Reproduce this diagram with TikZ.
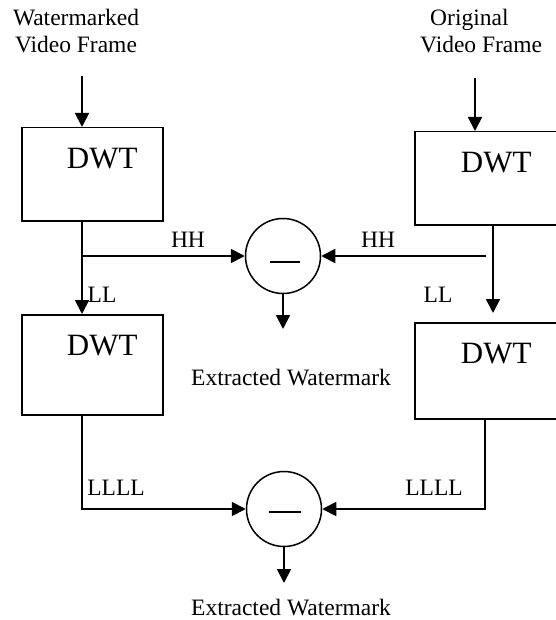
\documentclass[tikz,border=0pt]{standalone}
\usepackage{fontspec}
\setmainfont{Liberation Serif}
\usetikzlibrary{arrows.meta}

\begin{document}
\begin{tikzpicture}[x=1pt,y=-1pt,>={Triangle[length=14pt,width=14pt]},
    dwtbox/.style={draw, line width=1.5pt, inner sep=0pt, minimum width=141pt, text height=41pt, text depth=#1, font=\fontsize{31}{31}\selectfont},
    subtr/.style={draw, circle, line width=1.5pt, minimum size=75pt, inner sep=0pt},
    lbl/.style={font=\fontsize{23.5}{27}\selectfont, inner sep=0pt},
    flow/.style={line width=1.8pt,->}]
    \useasboundingbox (0,0) rectangle (555,620);
    \node[lbl, align=center, anchor=base] (wm) at (76,53) {Watermarked\\Video Frame}; % input 1
    \node[lbl, align=left, anchor=base west] (orig) at (420,53) {\hspace*{10pt}Original\\Video Frame}; % input 2
    \node[dwtbox=52pt, anchor=north west] (b1) at (21,127) {\hspace*{20pt}DWT}; % first level, watermarked
    \node[dwtbox=59pt, anchor=north west] (b2) at (21,314) {\hspace*{20pt}DWT}; % second level, watermarked
    \node[dwtbox=52pt, anchor=north west, minimum width=143pt] (b3) at (414,131) {\hspace*{20pt}DWT}; % first level, original
    \node[dwtbox=55pt, anchor=north west, minimum width=143pt] (b4) at (414,322) {\hspace*{20pt}DWT}; % second level, original
    \node[subtr] (c1) at (283,256) {}; % HH difference
    \node[subtr] (c2) at (284,509) {}; % LLLL difference
    \draw[line width=1.5pt] ([xshift=-13pt,yshift=-6pt]c1.center) -- ++(30,0); % minus
    \draw[line width=1.5pt] ([xshift=-15pt,yshift=-3pt]c2.center) -- ++(32,0); % minus
    \coordinate (wmin) at (82,76);
    \coordinate (origin) at (475,78);
    \coordinate (llr) at (493,313);
    \coordinate (split1) at (82,256);
    \coordinate (split2) at (486,256);
    \coordinate (xr) at (485,0);
    \coordinate (out1) at (283,329);
    \coordinate (out2) at (284,583);
    \draw[flow] (wmin) -- (wmin |- b1.north);
    \draw[flow] (origin) -- (origin |- b3.north);
    \draw[flow] (b1.south -| wmin) -- (b2.north -| wmin);
    \draw[flow] (b3.south -| llr) -- (llr);
    \draw[flow] (split1) -- (c1.west);
    \draw[flow] (split2) -- (c1.east);
    \draw[flow] (c1.south) -- (out1);
    \draw[flow] (b2.south -| wmin) |- (c2.west);
    \draw[flow] (b4.south -| xr) |- (c2.east);
    \draw[flow] (c2.south) -- (out2);
    \node[lbl, anchor=base] (hh1) at (188,247) {HH};
    \node[lbl, anchor=base] (hh2) at (378,247) {HH};
    \node[lbl, anchor=base] (ll1) at (102,302) {LL};
    \node[lbl, anchor=base] (ll2) at (438,302) {LL};
    \node[lbl, anchor=base] (llll1) at (116,495) {LLLL};
    \node[lbl, anchor=base] (llll2) at (434,495) {LLLL};
    \node[lbl, anchor=base] (ex1) at (291,385) {Extracted Watermark};
    \node[lbl, anchor=base] (ex2) at (291,615) {Extracted Watermark};
\end{tikzpicture}
\end{document}
